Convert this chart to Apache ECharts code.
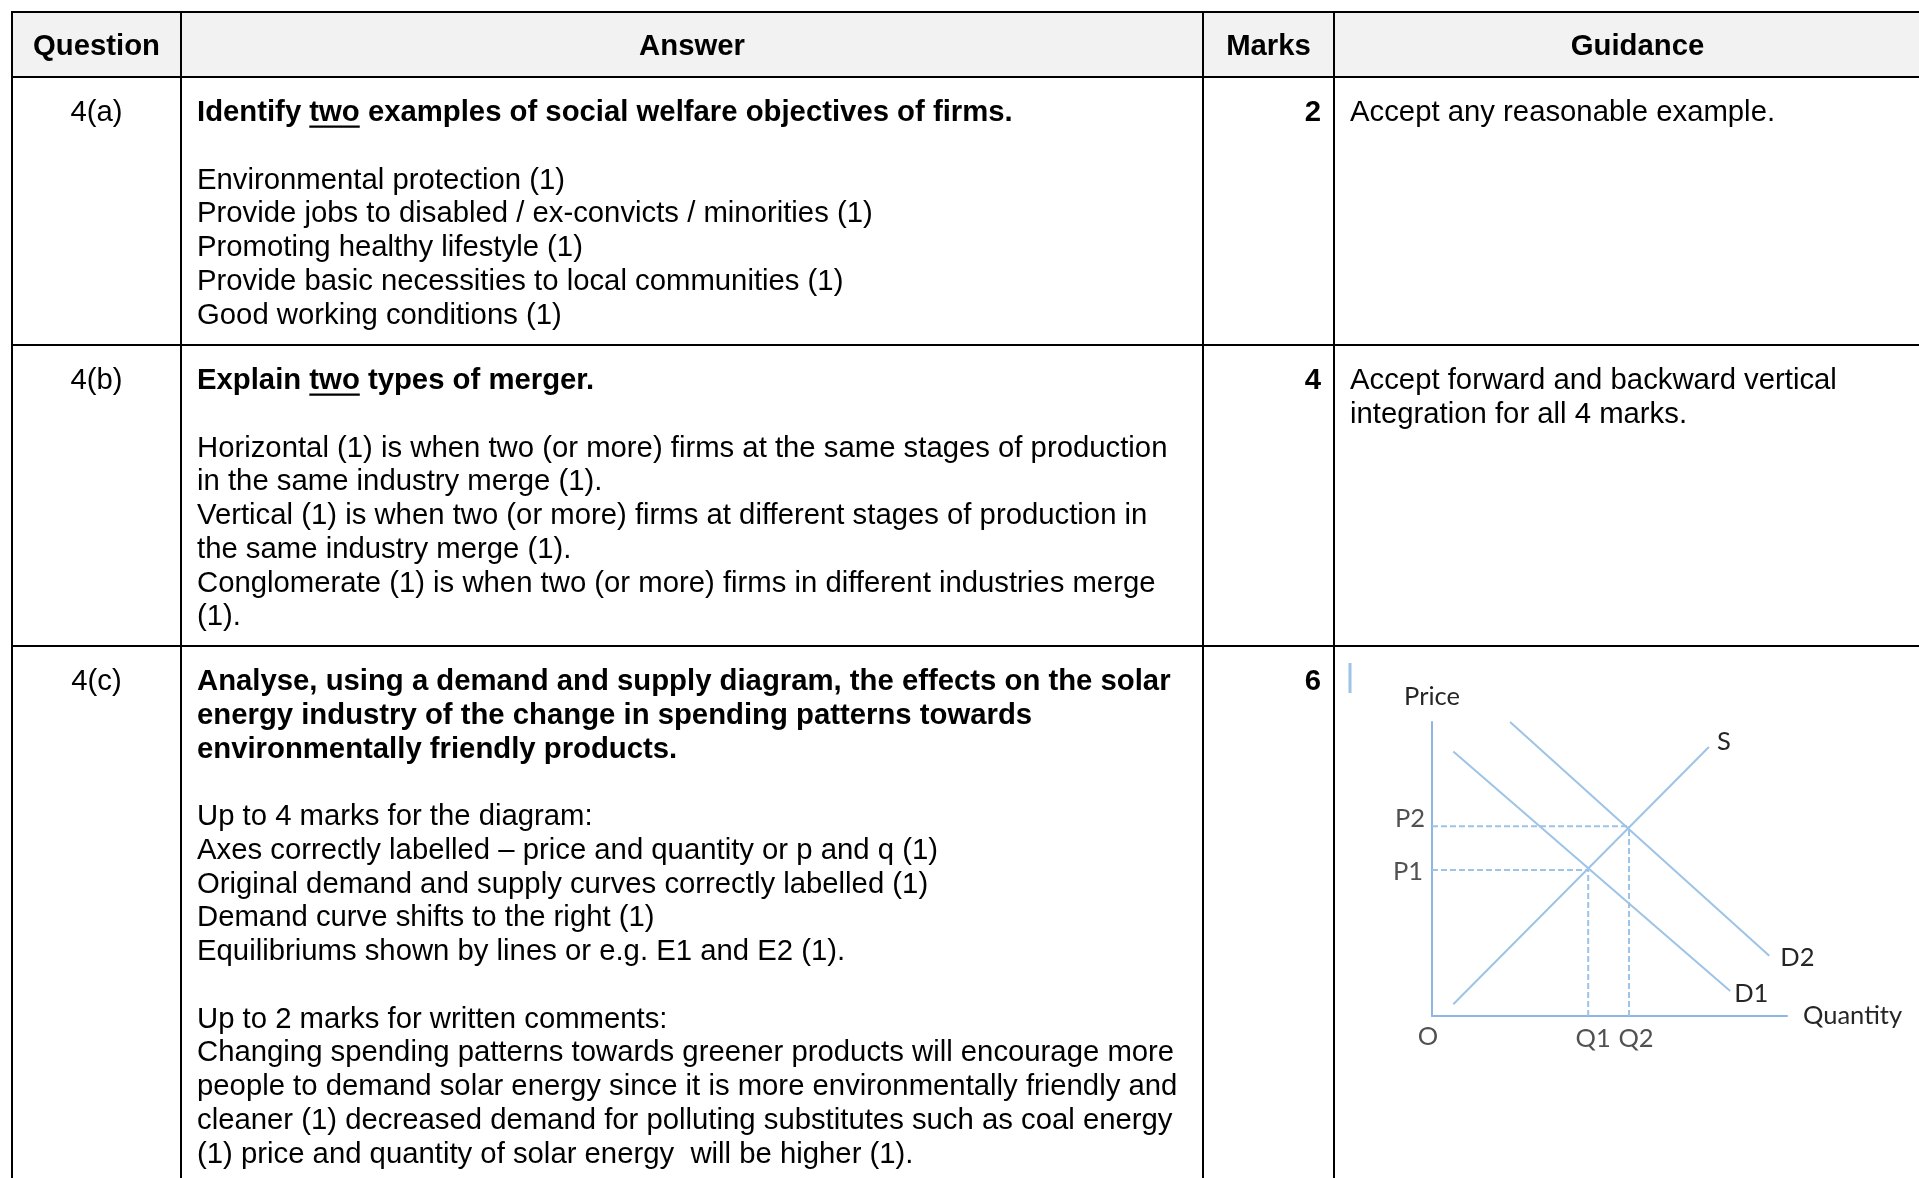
<!DOCTYPE html>
<html>
<head>
<meta charset="utf-8">
<script src="https://cdn.jsdelivr.net/npm/echarts@6/dist/echarts.min.js"></script>
<style>
  html, body { margin: 0; padding: 0; background: #fff; }
  #main { width: 1919px; height: 1178px; }
</style>
</head>
<body>
<div id="main"></div>
<script>
// table content
var headers = ['Question', 'Answer', 'Marks', 'Guidance'];
var questions = ['4(a)', '4(b)', '4(c)'];
var marks = ['2', '4', '6'];
var titles = [
  ['Identify two examples of social welfare objectives of firms.'],
  ['Explain two types of merger.'],
  ['Analyse, using a demand and supply diagram, the effects on the solar',
   'energy industry of the change in spending patterns towards',
   'environmentally friendly products.']
];
var underlined = [['Identify ', 'two'], ['Explain ', 'two'], null];
var answers = [
  ['Environmental protection (1)',
   'Provide jobs to disabled / ex-convicts / minorities (1)',
   'Promoting healthy lifestyle (1)',
   'Provide basic necessities to local communities (1)',
   'Good working conditions (1)'],
  ['Horizontal (1) is when two (or more) firms at the same stages of production',
   'in the same industry merge (1).',
   'Vertical (1) is when two (or more) firms at different stages of production in',
   'the same industry merge (1).',
   'Conglomerate (1) is when two (or more) firms in different industries merge',
   '(1).'],
  ['Up to 4 marks for the diagram:',
   'Axes correctly labelled \u2013 price and quantity or p and q (1)',
   'Original demand and supply curves correctly labelled (1)',
   'Demand curve shifts to the right (1)',
   'Equilibriums shown by lines or e.g. E1 and E2 (1).',
   '',
   'Up to 2 marks for written comments:',
   'Changing spending patterns towards greener products will encourage more',
   'people to demand solar energy since it is more environmentally friendly and',
   'cleaner (1) decreased demand for polluting substitutes such as coal energy',
   '(1) price and quantity of solar energy  will be higher (1).']
];
var guidance = [
  ['Accept any reasonable example.'],
  ['Accept forward and backward vertical', 'integration for all 4 marks.'],
  []
];

// diagram values (quantity, price)
var supplyS = [[0.6, 0.4], [7.8, 9.15]];
var demandD1 = [[0.6, 9.0], [8.4, 0.85]];
var demandD2 = [[2.2, 10], [9.5, 2.05]];
var eq1 = [4.4, 4.97];
var eq2 = [5.55, 6.45];

// layout
var colX = [12, 181, 1203, 1334, 1941];
var rowY = [12, 77, 345, 646, 1178];
var LH = 33.75;
var FS = 29.3;
var FAMILY = 'Liberation Sans';
var blue = '#9DC3E6';
var axisBlue = '#8DB6E2';
var labelFont = 'Lato';

var ctx = document.createElement('canvas').getContext('2d');
function textW(str, bold) {
  ctx.font = (bold ? 'bold ' : '') + FS + 'px "' + FAMILY + '"';
  return ctx.measureText(str).width;
}

var g = [];
g.push({ type: 'rect', shape: { x: colX[0], y: rowY[0], width: 1919, height: rowY[1] - rowY[0] },
  style: { fill: '#F2F2F2' }, z: 0, silent: true });

// grid lines
for (var i = 0; i < 4; i++) {
  g.push({ type: 'line', shape: { x1: colX[0] - 1, y1: rowY[i], x2: 1919, y2: rowY[i] },
    style: { stroke: '#000', lineWidth: 2 }, z: 5, silent: true });
  g.push({ type: 'line', shape: { x1: colX[i], y1: rowY[0], x2: colX[i], y2: 1178 },
    style: { stroke: '#000', lineWidth: 2 }, z: 5, silent: true });
}

// headers
for (var i = 0; i < 4; i++) {
  g.push({ type: 'text', z: 6, silent: true, style: {
    text: headers[i], x: (colX[i] + colX[i + 1]) / 2, y: (rowY[0] + rowY[1]) / 2 + 2,
    fontFamily: FAMILY, fontSize: FS, fontWeight: 'bold', fill: '#000',
    align: 'center', verticalAlign: 'middle' } });
}

function block(lines, x, y, bold, align) {
  g.push({ type: 'text', z: 6, silent: true, style: {
    text: lines.join('\n'), x: x, y: y,
    fontFamily: FAMILY, fontSize: FS, fontWeight: bold ? 'bold' : 'normal', fill: '#000',
    align: align || 'left', verticalAlign: 'top', lineHeight: LH } });
}

for (var r = 0; r < 3; r++) {
  var cellTop = rowY[r + 1] + 19.2;
  block([questions[r]], (colX[0] + colX[1]) / 2, cellTop, false, 'center');
  block([marks[r]], colX[3] - 13, cellTop, true, 'right');
  block(titles[r], colX[1] + 16, cellTop, true);
  block(answers[r], colX[1] + 16, cellTop + LH * (titles[r].length + 1), false);
  if (guidance[r].length) block(guidance[r], colX[3] + 16, cellTop, false);
  if (underlined[r]) {
    var ux = colX[1] + 16 + textW(underlined[r][0], true);
    var uw = textW(underlined[r][1], true);
    var uy = cellTop + LH / 2 + 13.5;
    g.push({ type: 'line', z: 6, silent: true,
      shape: { x1: ux, y1: uy, x2: ux + uw, y2: uy },
      style: { stroke: '#000', lineWidth: 2.2 } });
  }
}

// stray cursor mark in guidance cell
g.push({ type: 'line', z: 6, silent: true, shape: { x1: 1350, y1: 663, x2: 1350, y2: 693 },
  style: { stroke: blue, lineWidth: 3 } });

var lblStyle = { fontFamily: labelFont, fontSize: 25.5, color: '#262626' };

function curve(name, data, offset) {
  return {
    type: 'line', data: data, symbol: 'none', silent: true,
    lineStyle: { color: blue, width: 2 },
    endLabel: Object.assign({ show: true, formatter: name, distance: 6, offset: offset }, lblStyle)
  };
}
function guide(data) {
  return {
    type: 'line', data: data, symbol: 'none', silent: true,
    lineStyle: { color: blue, width: 2, type: [6, 3] }
  };
}
function pt(value, text, pos, offset) {
  return { value: value, label: Object.assign({ show: true, formatter: text, position: pos, offset: offset, distance: 6 }, lblStyle) };
}

var option = {
  animation: false,
  graphic: g,
  grid: { left: 1432, top: 722, width: 355, height: 294, containLabel: false },
  xAxis: {
    type: 'value', min: 0, max: 10,
    name: 'Quantity', nameLocation: 'end', nameGap: 16,
    nameTextStyle: Object.assign({ verticalAlign: 'bottom', padding: [0, 0, -13, 0] }, lblStyle),
    axisLine: { show: true, lineStyle: { color: axisBlue, width: 2 } },
    axisTick: { show: false }, axisLabel: { show: false }, splitLine: { show: false }
  },
  yAxis: {
    type: 'value', min: 0, max: 10,
    name: 'Price', nameLocation: 'end', nameGap: 12,
    nameTextStyle: Object.assign({ align: 'center' }, lblStyle),
    axisLine: { show: true, lineStyle: { color: axisBlue, width: 2 } },
    axisTick: { show: false }, axisLabel: { show: false }, splitLine: { show: false }
  },
  series: [
    curve('S', supplyS, [2, -5]),
    curve('D1', demandD1, [-2, 3]),
    curve('D2', demandD2, [5, 2]),
    guide([[0, eq1[1]], eq1.slice()]),
    guide([[eq1[0], 0], eq1.slice()]),
    guide([[0, eq2[1]], eq2.slice()]),
    guide([[eq2[0], 0], eq2.slice()]),
    {
      type: 'scatter', symbolSize: 0, silent: true,
      data: [
        pt([0, eq2[1]], 'P2', 'left', [-1, -8]),
        pt([0, eq1[1]], 'P1', 'left', [-3, 2]),
        pt([eq1[0], 0], 'Q1', 'bottom', [5, 4]),
        pt([eq2[0], 0], 'Q2', 'bottom', [7, 4]),
        pt([0, 0], 'O', 'bottom', [-4, 2])
      ]
    }
  ]
};

var chart = echarts.init(document.getElementById('main'));
chart.setOption(option);
</script>
</body>
</html>
